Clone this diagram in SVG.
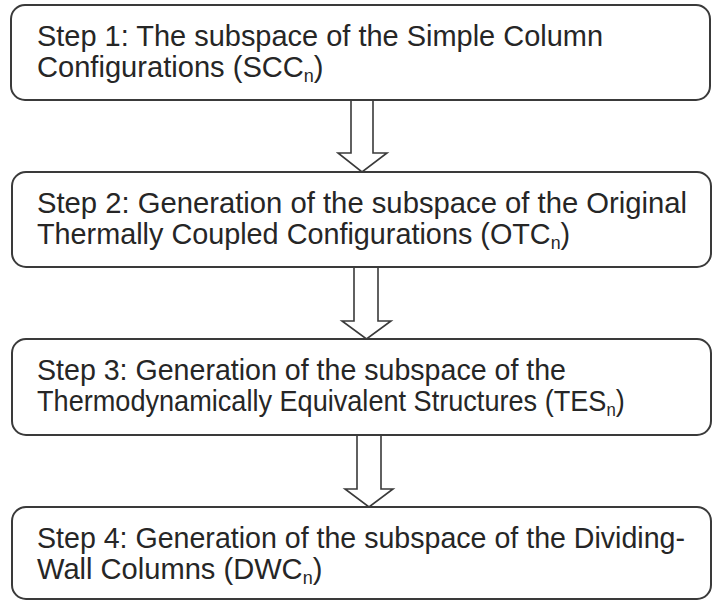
<svg xmlns="http://www.w3.org/2000/svg" width="712" height="601" viewBox="0 0 712 601">
<defs>
<style>
.box{fill:#fff;stroke:#3a3a3a;stroke-width:2}
.arr{fill:#fff;stroke:#3a3a3a;stroke-width:1.6;stroke-linejoin:miter}
.t{font-family:"Liberation Sans",Arial,sans-serif;font-size:29.1px;fill:#262626}
.sub{font-size:18px}
</style>
</defs>
<rect width="712" height="601" fill="#fff"/>
<g id="connectors">
<path class="arr" d="M351,100 L351,153 L338,153 L362,172 L387,153 L373,153 L373,100 Z"/>
<path class="arr" d="M354,267 L354,321 L342,321 L366.5,339 L391,321 L378,321 L378,267 Z"/>
<path class="arr" d="M357,435 L357,489 L345,489 L369,507 L393,489 L381,489 L381,435 Z"/>
</g>
<g id="step1">
<rect class="box" x="11" y="5" width="699" height="95" rx="14"/>
<text class="t" x="37" y="46" textLength="566" lengthAdjust="spacingAndGlyphs">Step 1: The subspace of the Simple Column</text>
<text class="t" x="37" y="77">Configurations (SCC<tspan class="sub" dy="5">n</tspan><tspan dy="-5">)</tspan></text>
</g>
<g id="step2">
<rect class="box" x="12" y="172" width="699" height="95" rx="14"/>
<text class="t" x="37" y="213" textLength="650" lengthAdjust="spacingAndGlyphs">Step 2: Generation of the subspace of the Original</text>
<text class="t" transform="translate(37,244) scale(0.99,1)">Thermally Coupled Configurations (OTC<tspan class="sub" dy="5">n</tspan><tspan dy="-5">)</tspan></text>
</g>
<g id="step3">
<rect class="box" x="12" y="339" width="699" height="96" rx="14"/>
<text class="t" x="37" y="380" textLength="529" lengthAdjust="spacingAndGlyphs">Step 3: Generation of the subspace of the</text>
<text class="t" transform="translate(37,411) scale(0.932,1)">Thermodynamically Equivalent Structures (TES<tspan class="sub" dy="5">n</tspan><tspan dy="-5">)</tspan></text>
</g>
<g id="step4">
<rect class="box" x="12" y="507" width="699" height="92" rx="14"/>
<text class="t" x="37" y="548" textLength="648" lengthAdjust="spacingAndGlyphs">Step 4: Generation of the subspace of the Dividing-</text>
<text class="t" x="37" y="579">Wall Columns (DWC<tspan class="sub" dy="5">n</tspan><tspan dy="-5">)</tspan></text>
</g>
</svg>
